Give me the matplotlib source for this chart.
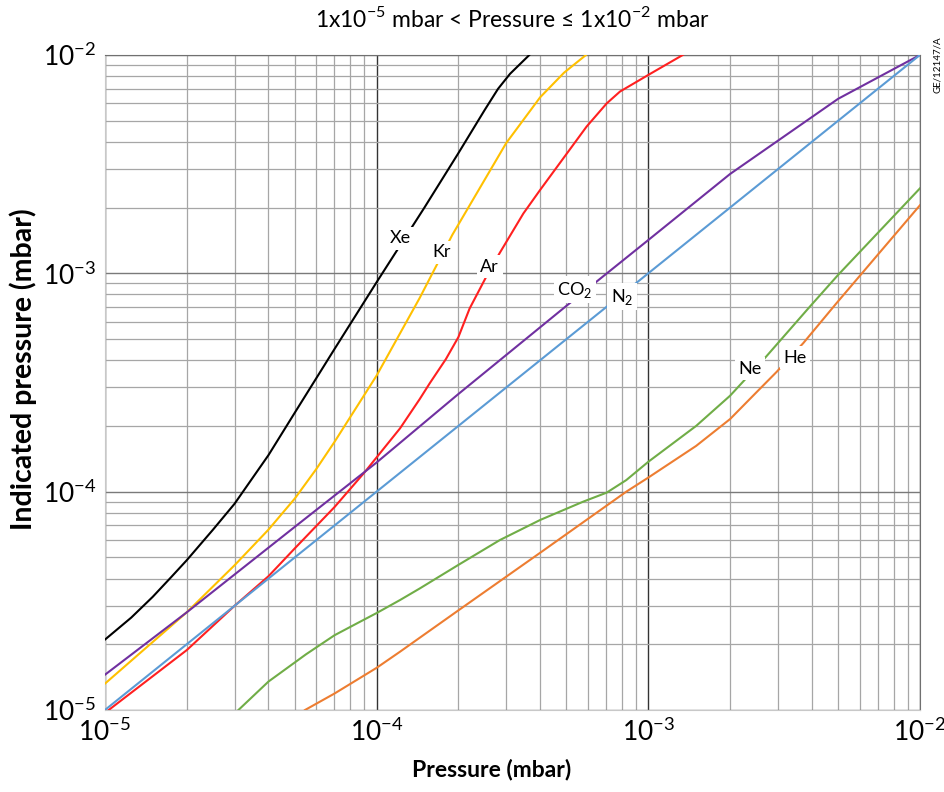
import matplotlib
matplotlib.use("Agg")
from matplotlib import pyplot as plt
from matplotlib.ticker import FixedLocator, LogLocator, NullFormatter

plt.rcParams['font.family'] = ['Lato', 'DejaVu Sans']
plt.rcParams['mathtext.fontset'] = 'custom'
plt.rcParams['mathtext.rm'] = 'Lato'

# gas curves: pressure (mbar) -> indicated pressure (mbar)
n2_x = [1e-5, 1e-2]
n2_y = [1e-5, 1e-2]

co2_x = [1e-5, 2e-5, 5e-5, 1e-4, 2e-4, 5e-4, 1e-3, 2e-3, 5e-3, 1e-2]
co2_y = [1.45e-5, 2.8e-5, 6.9e-5, 1.36e-4, 2.8e-4, 7.1e-4, 1.42e-3, 2.85e-3, 6.3e-3, 1e-2]

xe_x = [1e-5, 1.25e-5, 1.5e-5, 1.75e-5, 2e-5, 2.5e-5, 3e-5, 4e-5, 5e-5, 7e-5, 1e-4, 1.5e-4,
        2e-4, 2.5e-4, 2.8e-4, 3.1e-4, 3.65e-4]
xe_y = [2.1e-5, 2.65e-5, 3.3e-5, 4.05e-5, 4.85e-5, 6.7e-5, 8.8e-5, 1.47e-4, 2.3e-4, 4.5e-4, 9.1e-4, 2.0e-3,
        3.55e-3, 5.6e-3, 7.0e-3, 8.2e-3, 1.0e-2]

kr_x = [1e-5, 2e-5, 3e-5, 4e-5, 5e-5, 6e-5, 7e-5, 1e-4, 1.44e-4, 1.9e-4, 3e-4, 4e-4, 4.9e-4, 5.9e-4]
kr_y = [1.32e-5, 2.8e-5, 4.6e-5, 6.7e-5, 9.3e-5, 1.27e-4, 1.69e-4, 3.4e-4, 7.7e-4, 1.5e-3, 3.95e-3,
        6.4e-3, 8.3e-3, 1e-2]

ar_x = [1e-5, 2e-5, 3e-5, 4e-5, 5e-5, 7e-5, 9e-5, 1.22e-4, 1.44e-4, 1.57e-4, 1.8e-4, 2e-4, 2.2e-4,
        2.55e-4, 2.84e-4, 3.47e-4, 4e-4, 5.93e-4, 7.03e-4, 7.87e-4, 1e-3, 1.34e-3]
ar_y = [9.7e-6, 1.88e-5, 3.0e-5, 4.1e-5, 5.5e-5, 8.5e-5, 1.22e-4, 1.95e-4, 2.65e-4, 3.14e-4, 4.05e-4,
        5.1e-4, 6.9e-4, 9.8e-4, 1.24e-3, 1.88e-3, 2.41e-3, 4.7e-3, 6.0e-3, 6.8e-3, 8.1e-3, 1e-2]

ne_x = [3.1e-5, 4e-5, 5.5e-5, 7e-5, 8.5e-5, 1e-4, 1.22e-4, 1.44e-4, 2e-4, 2.84e-4, 4e-4, 5.76e-4,
        7.03e-4, 8.3e-4, 1e-3, 1.5e-3, 2e-3, 2.69e-3, 3.93e-3, 5e-3, 1e-2]
ne_y = [1e-5, 1.35e-5, 1.8e-5, 2.2e-5, 2.5e-5, 2.78e-5, 3.19e-5, 3.6e-5, 4.62e-5, 6.0e-5, 7.42e-5,
        9.0e-5, 9.9e-5, 1.13e-4, 1.37e-4, 2.0e-4, 2.75e-4, 4.1e-4, 7.03e-4, 9.84e-4, 2.45e-3]

he_x = [5.45e-5, 7e-5, 1e-4, 1.22e-4, 2e-4, 4e-4, 8.3e-4, 1e-3, 1.5e-3, 2e-3, 2.5e-3, 2.97e-3,
        3.72e-3, 4.93e-3, 6.73e-3, 1e-2]
he_y = [1e-5, 1.19e-5, 1.56e-5, 1.85e-5, 2.86e-5, 5.25e-5, 1.0e-4, 1.16e-4, 1.62e-4, 2.15e-4, 2.85e-4,
        3.54e-4, 4.79e-4, 7.3e-4, 1.15e-3, 2.05e-3]

gases = ['Xe', 'Kr', 'Ar', 'CO$_2$', 'N$_2$', 'Ne', 'He']
curves = [(xe_x, xe_y), (kr_x, kr_y), (ar_x, ar_y), (co2_x, co2_y), (n2_x, n2_y), (ne_x, ne_y), (he_x, he_y)]
colors = ['#000000', '#FFC000', '#FF2020', '#7030A0', '#5B9BD5', '#70AD47', '#ED7D31']
label_pos = [(1.22e-4, 1.45e-3), (1.74e-4, 1.25e-3), (2.61e-4, 1.07e-3), (5.37e-4, 8.4e-4),
             (8.0e-4, 7.8e-4), (2.37e-3, 3.65e-4), (3.47e-3, 4.1e-4)]

ticks = [1e-5, 1e-4, 1e-3, 1e-2]
tick_labels = [r'$\mathregular{10^{-5}}$', r'$\mathregular{10^{-4}}$',
               r'$\mathregular{10^{-3}}$', r'$\mathregular{10^{-2}}$']

fig = plt.figure(figsize=(9.45, 7.92), dpi=100)
ax = fig.add_axes([0.111, 0.1035, 0.8625, 0.8271])
ax.set_xscale('log')
ax.set_yscale('log')
ax.set_xlim(1e-5, 1e-2)
ax.set_ylim(1e-5, 1e-2)

for (xs, ys), c in zip(curves, colors):
    ax.plot(xs, ys, color=c, lw=1.5, zorder=3, solid_joinstyle='round')

for name, (lx, ly) in zip(gases, label_pos):
    ax.text(lx, ly, name, fontsize=13, ha='center', va='center', zorder=4,
            bbox=dict(facecolor='white', edgecolor='none', pad=2.5))

ax.xaxis.set_major_locator(FixedLocator(ticks))
ax.yaxis.set_major_locator(FixedLocator(ticks))
ax.set_xticklabels(tick_labels)
ax.set_yticklabels(tick_labels)
ax.xaxis.set_minor_locator(LogLocator(base=10, subs=range(2, 10)))
ax.yaxis.set_minor_locator(LogLocator(base=10, subs=range(2, 10)))
ax.xaxis.set_minor_formatter(NullFormatter())
ax.yaxis.set_minor_formatter(NullFormatter())
ax.tick_params(which='both', length=0, labelsize=19, pad=6)

ax.grid(which='minor', color='#a6a6a6', lw=0.9)
ax.grid(which='major', axis='y', color='#7a7a7a', lw=1.0)
ax.grid(which='major', axis='x', color='#333333', lw=1.0)
ax.set_axisbelow(True)
for side in ['left', 'bottom']:
    ax.spines[side].set_color('#c8c8c8')
for side in ['top', 'right']:
    ax.spines[side].set_color('#707070')

ax.set_xlabel('Pressure (mbar)', fontsize=16.5, fontweight='bold')
ax.set_ylabel('Indicated pressure (mbar)', fontsize=20.5, fontweight='bold')
ax.xaxis.set_label_coords(0.474, -0.074)
ax.yaxis.set_label_coords(-0.083, 0.52)
fig.text(0.542, 0.977, '1x10$^{-5}$ mbar < Pressure \u2264 1x10$^{-2}$ mbar',
         fontsize=16.5, ha='center', va='center')
fig.text(0.992, 0.918, 'GE/12147/A', fontsize=7, rotation=90, ha='center', va='center')

fig.savefig('out.png', dpi=100)
